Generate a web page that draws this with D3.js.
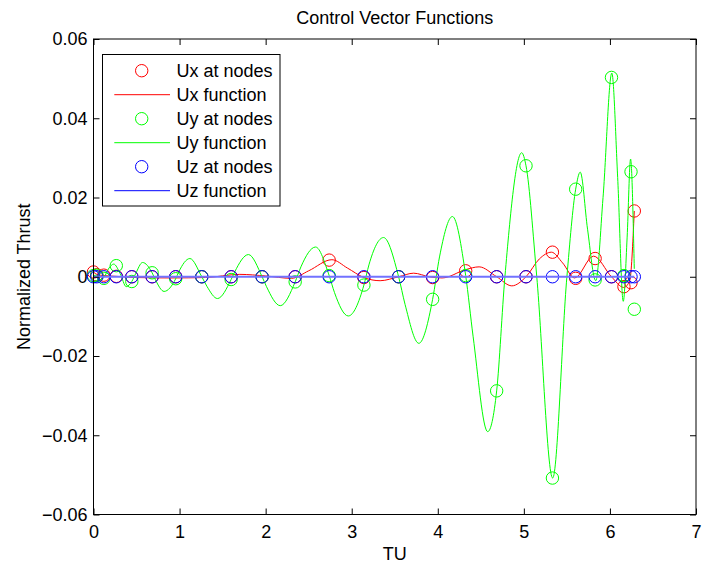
<!DOCTYPE html>
<html>
<head>
<meta charset="utf-8">
<script src="https://cdn.jsdelivr.net/npm/d3@7"></script>
<style>
  html, body { margin: 0; padding: 0; background: #fff; }
  svg text { font-family: "Liberation Sans", Arial, Helvetica, sans-serif; }
</style>
</head>
<body>
<svg id="chart" width="702" height="567"></svg>
<script>
// ---------- data ----------
const xTicks = [0, 1, 2, 3, 4, 5, 6, 7];
const yTicks = [-0.06, -0.04, -0.02, 0, 0.02, 0.04, 0.06];

// node times (TU)
const nodeT = [0, 0.038, 0.120, 0.265, 0.445, 0.681, 0.955, 1.258, 1.599, 1.959,
  2.343, 2.738, 3.1416, 3.545, 3.940, 4.324, 4.684, 5.025, 5.332, 5.602,
  5.828, 6.018, 6.163, 6.245, 6.2832];

const uxNodes = [0.0012, 0.0005, 0.0004, 0.0001, 0, 0, 0, 0, 0, 0,
  0, 0.0042, -0.0002, 0, -0.0002, 0.0015, 0, 0, 0.0062, -0.0004,
  0.0046, 0, -0.0025, -0.0015, 0.0166];

const uyNodes = [0.0003, 0.0004, -0.0004, 0.0028, -0.0012, 0.0010, -0.0005, 0, -0.0007, 0,
  -0.0013, 0.0003, -0.0021, 0, -0.0057, 0.0003, -0.0288, 0.0280, -0.0508, 0.0221,
  -0.0008, 0.0503, 0.0003, 0.0265, -0.0082];

const uzNodes = [0, 0, 0, 0, 0, 0, 0, 0, 0, 0, 0, 0, 0, 0, 0, 0, 0, 0, 0, 0, 0, 0, 0, 0, 0];

const uxFuncT = [0, 0.038, 0.120, 0.265, 0.5, 0.9, 1.3, 1.7, 2.0, 2.3, 2.5, 2.77, 2.95, 3.1416,
  3.33, 3.545, 3.72, 3.9, 4.05, 4.324, 4.48, 4.684, 4.86, 5.025, 5.18, 5.32, 5.45, 5.59,
  5.81, 6.018, 6.16, 6.23, 6.283];
const uxFuncV = [0.0012, 0.0006, 0.0003, 0.0001, -0.0002, -0.0003, -0.0002, 0.0006, 0.0002, -0.0004,
  0.0015, 0.0043, 0.0022, -0.0002, -0.0010, 0, 0.0009, 0, -0.0003, 0.0018, 0.0025, 0, -0.0023, 0,
  0.0045, 0.0062, 0.0035, -0.0003, 0.0052, 0, -0.0027, -0.0010, 0.0166];

const uyFuncT = [0, 0.038, 0.07, 0.120, 0.18, 0.235, 0.31, 0.38, 0.445, 0.49, 0.57, 0.681, 0.72, 0.82,
  0.955, 0.99, 1.12, 1.258, 1.32, 1.44, 1.599, 1.64, 1.80, 1.959, 2.01, 2.17, 2.343, 2.41, 2.58,
  2.738, 2.80, 2.96, 3.1416, 3.20, 3.37, 3.545, 3.62, 3.78, 3.940, 4.02, 4.17, 4.324, 4.41, 4.58,
  4.684, 4.78, 4.975, 5.025, 5.15, 5.335, 5.50, 5.602, 5.655, 5.74, 5.835, 5.92, 6.022,
  6.09, 6.155, 6.20, 6.24, 6.283];
const uyFuncV = [0.0003, 0.0004, -0.0008, -0.0002, 0.0022, 0.0032, 0.0008, -0.0025, -0.0012, 0.0008,
  0.0036, 0.0010, -0.0008, -0.0037, -0.0005, 0.0012, 0.0046, 0, -0.0025, -0.0055, -0.0007, 0.0012,
  0.0056, 0, -0.0025, -0.0073, -0.0013, 0.0025, 0.0075, 0.0003, -0.0040, -0.0099, -0.0021, 0.0030,
  0.0099, 0, -0.0070, -0.0168, -0.0057, 0.0050, 0.0152, 0.0003, -0.0150, -0.0391, -0.0288, 0,
  0.0313, 0.0280, 0, -0.0508, 0, 0.0221, 0.0264, 0.0120, -0.0010, 0.0200, 0.0514,
  0.0250, -0.0062, 0.0100, 0.0297, 0.0020];

const uzFuncT = [0, 6.2832];
const uzFuncV = [0, 0];

const legendLabels = ["Ux at nodes", "Ux function", "Uy at nodes", "Uy function", "Uz at nodes", "Uz function"];

// ---------- drawing ----------
const svg = d3.select("#chart");
const x = d3.scaleLinear().domain([0, 7]).range([93.5, 696]);
const y = d3.scaleLinear().domain([-0.06, 0.06]).range([514.5, 39]);
const FS = "18px";

const zip = (a, b) => a.map((v, i) => [v, b[i]]);
const line = d3.line().x(d => x(d[0])).y(d => y(d[1])).curve(d3.curveMonotoneX);

function drawNodes(vals, color) {
  svg.append("g").selectAll("circle").data(zip(nodeT, vals)).join("circle")
    .attr("cx", d => x(d[0])).attr("cy", d => y(d[1])).attr("r", 6.2)
    .attr("fill", "none").attr("stroke", color).attr("stroke-width", 1);
}
function drawFunc(ts, vs, color, w) {
  svg.append("path").datum(zip(ts, vs)).attr("d", line)
    .attr("fill", "none").attr("stroke", color).attr("stroke-width", w || 1);
}

drawNodes(uxNodes, "#ff0000");
drawFunc(uxFuncT, uxFuncV, "#ff0000");
drawNodes(uyNodes, "#00ff00");
drawFunc(uyFuncT, uyFuncV, "#00ff00");
drawNodes(uzNodes, "#0000ff");
drawFunc(uzFuncT, uzFuncV, "#7272ff", 2);

// axes
const fmtY = d => d === 0 ? "0" : d3.format(".2f")(d);
const gB = svg.append("g").attr("transform", `translate(0,${y(-0.06)})`)
  .call(d3.axisBottom(x).tickValues(xTicks).tickSize(-6).tickPadding(10.5).tickFormat(d3.format("d")));
const gL = svg.append("g").attr("transform", `translate(${x(0)},0)`)
  .call(d3.axisLeft(y).tickValues(yTicks).tickSize(-6).tickPadding(6).tickFormat(fmtY));
const gT = svg.append("g").attr("transform", `translate(0,${y(0.06)})`)
  .call(d3.axisTop(x).tickValues(xTicks).tickSize(-6).tickFormat(""));
const gR = svg.append("g").attr("transform", `translate(${x(7)},0)`)
  .call(d3.axisRight(y).tickValues(yTicks).tickSize(-6).tickFormat(""));
[gB, gL, gT, gR].forEach(g => {
  g.select(".domain").remove();
  g.selectAll("line").attr("stroke", "#000");
  g.selectAll("text").attr("fill", "#000").style("font-size", FS)
    .style("font-family", '"Liberation Sans", Arial, sans-serif');
});
svg.append("rect").attr("x", x(0)).attr("y", y(0.06))
  .attr("width", x(7) - x(0)).attr("height", y(-0.06) - y(0.06))
  .attr("fill", "none").attr("stroke", "#000").attr("stroke-width", 1);

// title and axis labels
svg.append("text").attr("x", (x(0) + x(7)) / 2).attr("y", 24)
  .attr("text-anchor", "middle").style("font-size", FS).text("Control Vector Functions");
svg.append("text").attr("x", (x(0) + x(7)) / 2).attr("y", 560)
  .attr("text-anchor", "middle").style("font-size", FS).text("TU");
svg.append("text").attr("transform", `translate(30,${(y(0.06) + y(-0.06)) / 2}) rotate(-90)`)
  .attr("text-anchor", "middle").style("font-size", FS).text("Normalized Thrust");

// legend
const lg = svg.append("g");
lg.append("rect").attr("x", 102.5).attr("y", 54.5).attr("width", 177.5).attr("height", 151.5)
  .attr("fill", "#fff").attr("stroke", "#000").attr("stroke-width", 1);
const lgColors = ["#ff0000", "#ff0000", "#00ff00", "#00ff00", "#0000ff", "#0000ff"];
legendLabels.forEach((lab, i) => {
  const cy = 70.7 + i * 24;
  if (i % 2 === 0) {
    lg.append("circle").attr("cx", 141.7).attr("cy", cy).attr("r", 6.2)
      .attr("fill", "none").attr("stroke", lgColors[i]);
  } else {
    lg.append("line").attr("x1", 114.3).attr("x2", 170).attr("y1", cy).attr("y2", cy)
      .attr("stroke", lgColors[i]).attr("stroke-width", 1);
  }
  lg.append("text").attr("x", 176.5).attr("y", cy).attr("dy", "0.35em")
    .style("font-size", FS).text(lab);
});
</script>
</body>
</html>
